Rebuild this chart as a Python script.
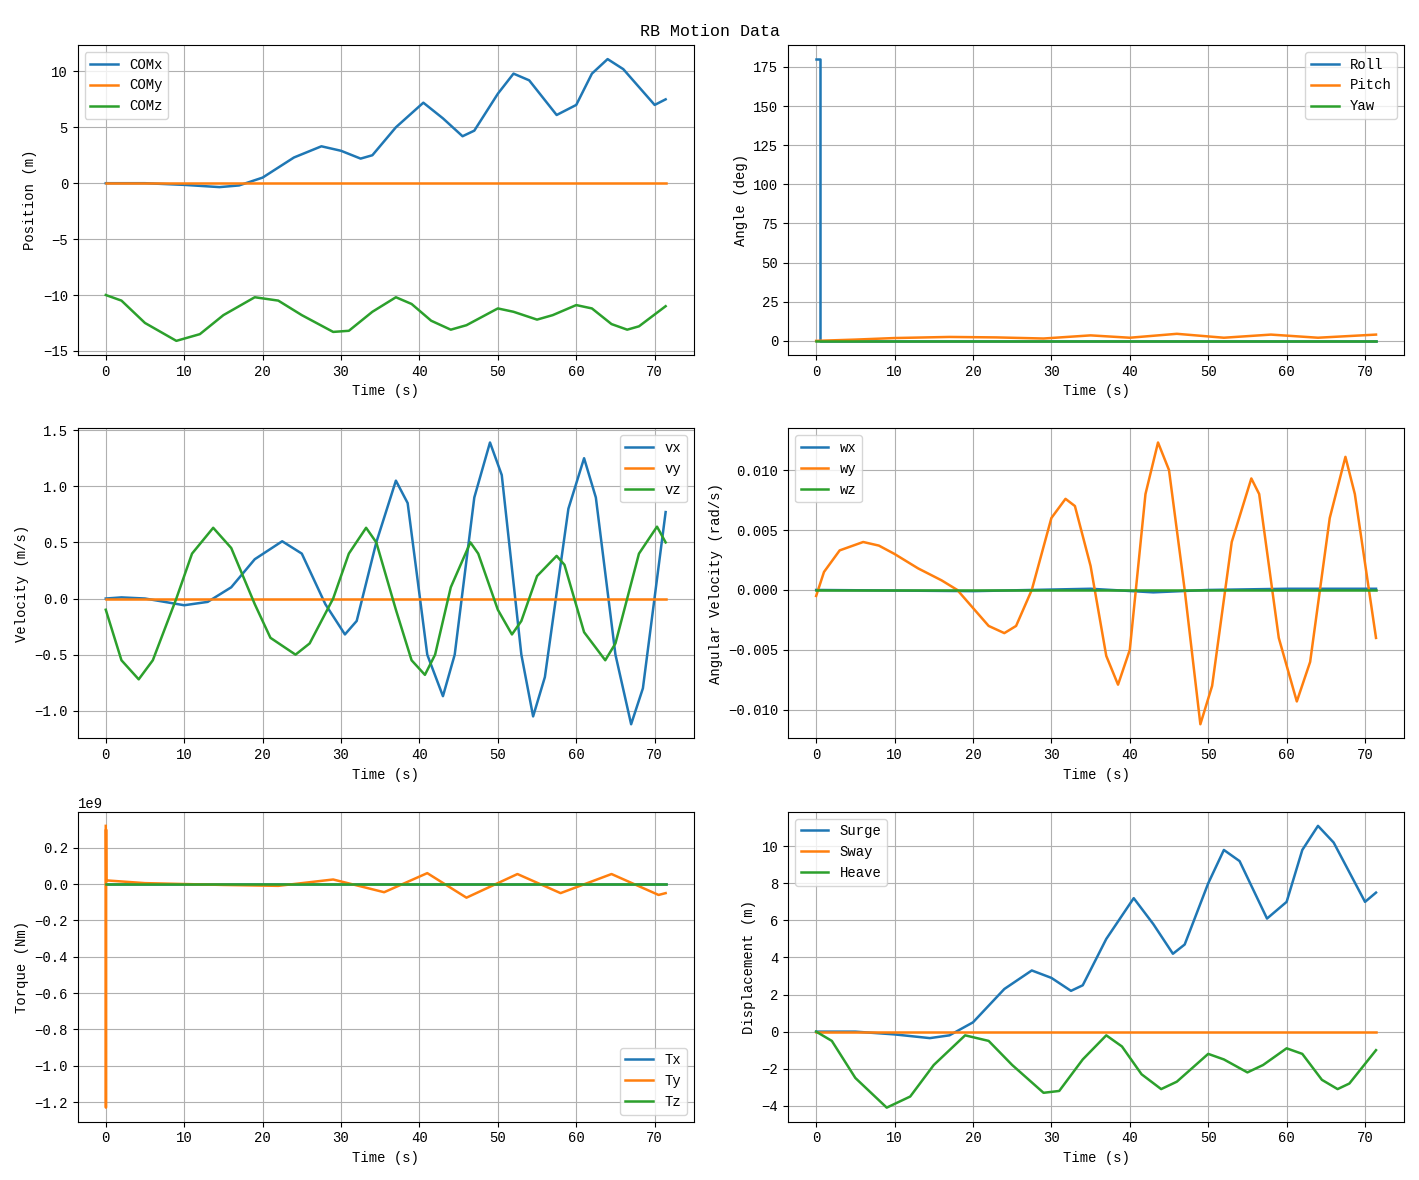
import numpy as np, pandas as pd, matplotlib
matplotlib.use("Agg")
import matplotlib.pyplot as plt, seaborn as sns
plt.rcParams['font.family'] = ['Liberation Mono', 'DejaVu Sans Mono']

t_end = 71.4
comx_t = [0,5,10,14.5,17,20,24,27.5,30,32.5,34,37,40.5,43,45.5,47,50,52,54,57.5,60,62,64,66,70,71.4]
comx_v = [0,0,-0.15,-0.35,-0.2,0.5,2.3,3.3,2.9,2.2,2.5,5,7.2,5.8,4.2,4.7,8,9.8,9.2,6.1,7,9.8,11.1,10.2,7,7.5]
comz_t = [0,2,5,9,12,15,19,22,25,29,31,34,37,39,41.5,44,46,50,52,55,57,60,62,64.5,66.5,68,71.4]
comz_v = [-10,-10.5,-12.5,-14.1,-13.5,-11.8,-10.2,-10.5,-11.8,-13.3,-13.2,-11.5,-10.2,-10.8,-12.3,-13.1,-12.7,-11.2,-11.5,-12.2,-11.8,-10.9,-11.2,-12.6,-13.1,-12.8,-11]
roll_t = [0,0.5,0.5,t_end]; roll_v = [180,180,0,0]
pitch_t = [0,5,10,17,23,29,35,40,46,52,58,64,71.4]
pitch_v = [0,0.8,1.8,2.5,2.2,1.5,3.5,2,4.5,2,4,2,4]
vx_t = [0,2,5,10,13,16,19,22.5,25,28,30.5,32,34.5,37,38.5,41,43,44.5,47,49,50.5,53,54.5,56,59,61,62.5,65,67,68.5,71.4]
vx_v = [0,0.01,0,-0.06,-0.03,0.1,0.35,0.51,0.4,-0.05,-0.32,-0.2,0.5,1.05,0.85,-0.5,-0.87,-0.5,0.9,1.39,1.1,-0.5,-1.05,-0.7,0.8,1.25,0.9,-0.5,-1.12,-0.8,0.77]
vz_t = [0,2,4.2,6,9,11,13.7,16,19,21,24.2,26,29,31,33.2,34.5,37,39,40.7,42,44,46.5,47.5,50,51.8,53,55,57.5,58.5,61,63.7,65,68,70.3,71.4]
vz_v = [-0.1,-0.55,-0.72,-0.55,0,0.4,0.63,0.45,-0.05,-0.35,-0.5,-0.4,0,0.4,0.63,0.5,-0.1,-0.55,-0.68,-0.5,0.1,0.5,0.4,-0.1,-0.32,-0.2,0.2,0.38,0.3,-0.3,-0.55,-0.4,0.4,0.64,0.5]
wy_t = [0,1,3,6,8,10,13,16,18,20,22,24,25.5,27.5,30,31.8,33,35,37,38.5,40,42,43.6,45,47,49,50.5,53,55.5,56.5,59,61.3,63,65.5,67.5,68.7,71.4]
wy_v = [-0.0005,0.0015,0.0033,0.004,0.0037,0.003,0.0018,0.0008,0,-0.0015,-0.003,-0.0036,-0.003,0,0.006,0.0076,0.007,0.002,-0.0055,-0.0079,-0.005,0.008,0.0123,0.01,0,-0.0112,-0.008,0.004,0.0093,0.008,-0.004,-0.0093,-0.006,0.006,0.0111,0.008,-0.004]
wx_t = [0,20,35,43,50,60,71.4]; wx_v = [0,-0.0001,0.0001,-0.0002,0,0.0001,0.0001]
ty_t = [0,0.02,0.04,0.06,0.1,5,15,22,29,35.5,41,46,52.5,58,64.5,70.5,71.4]
ty_v = [0.32e9,-1.23e9,0.3e9,0.02e9,0.02e9,0.005e9,-0.005e9,-0.01e9,0.025e9,-0.045e9,0.06e9,-0.075e9,0.055e9,-0.05e9,0.055e9,-0.06e9,-0.05e9]
zero_t = [0,t_end]; zero_v = [0,0]

cols = sns.color_palette("tab10")
fig, axes = plt.subplots(3, 2, figsize=(14.19, 11.8), dpi=100)
def draw(ax, series, ylabel, loc):
    for i, (lab, t, v) in enumerate(series):
        sns.lineplot(x=t, y=v, ax=ax, label=lab, color=cols[i], sort=False, estimator=None, lw=1.8)
    ax.set_xlabel("Time (s)"); ax.set_ylabel(ylabel); ax.grid(True)
    ax.legend(loc=loc)
draw(axes[0,0], [("COMx",comx_t,comx_v),("COMy",zero_t,zero_v),("COMz",comz_t,comz_v)], "Position (m)", "upper left")
draw(axes[0,1], [("Roll",roll_t,roll_v),("Pitch",pitch_t,pitch_v),("Yaw",zero_t,zero_v)], "Angle (deg)", "upper right")
draw(axes[1,0], [("vx",vx_t,vx_v),("vy",zero_t,zero_v),("vz",vz_t,vz_v)], "Velocity (m/s)", "upper right")
draw(axes[1,1], [("wx",wx_t,wx_v),("wy",wy_t,wy_v),("wz",zero_t,zero_v)], "Angular Velocity (rad/s)", "upper left")
draw(axes[2,0], [("Tx",zero_t,zero_v),("Ty",ty_t,ty_v),("Tz",zero_t,zero_v)], "Torque (Nm)", "lower right")
draw(axes[2,1], [("Surge",comx_t,comx_v),("Sway",zero_t,zero_v),("Heave",comz_t,[v+10 for v in comz_v])], "Displacement (m)", "upper left")
fig.suptitle("RB Motion Data")
fig.tight_layout()
fig.savefig("out.png")
